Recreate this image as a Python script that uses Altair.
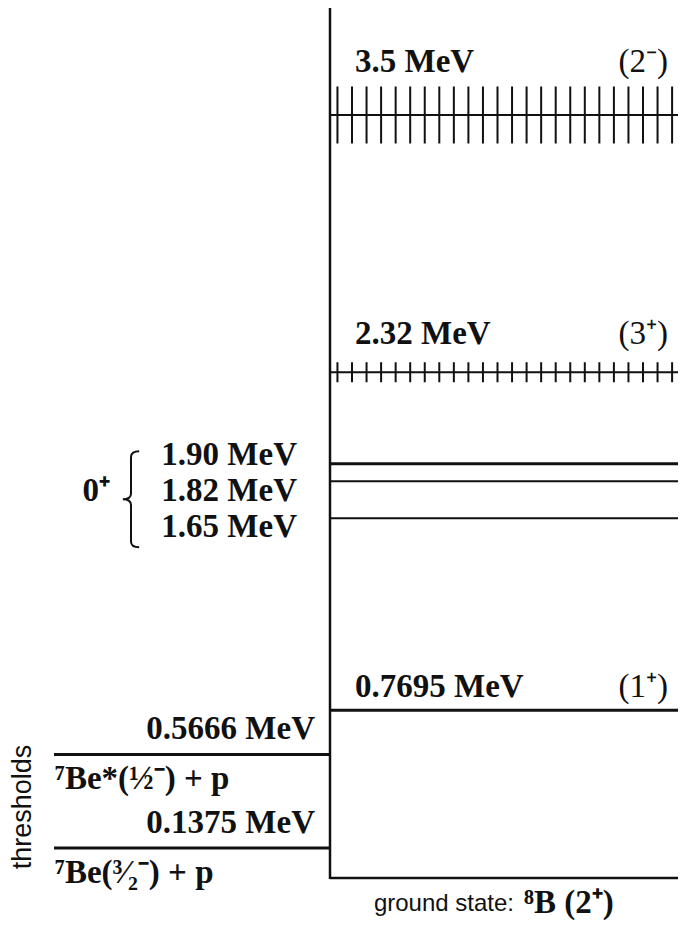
import altair as alt
import pandas as pd

# ---------------- data ----------------
res_energy = [3.5, 2.32]                      # broad resonances (hatched)
res_label = ["3.5 MeV", "2.32 MeV"]
res_spin = ["(2⁻)", "(3⁺)"]

zero_energy = [1.90, 1.82, 1.65]              # 0+ triplet
zero_label = ["1.90 MeV", "1.82 MeV", "1.65 MeV"]
zero_spin = "0⁺"

exc_energy = [0.7695]
exc_label = ["0.7695 MeV"]
exc_spin = ["(1⁺)"]

thr_energy = [0.5666, 0.1375]
thr_label = ["0.5666 MeV", "0.1375 MeV"]
thr_channel = ["⁷Be*(½⁻) + p", "⁷Be(³⁄₂⁻) + p"]
thr_title = "thresholds"

ground_energy = 0.0
ground_prefix = "ground state:"
ground_label = "⁸B (2⁺)"

# ---------------- layout / style ----------------
W, H = 670, 913                 # chart drawn at page offset (8, 8)
PX = 218.0                      # pixels per MeV
Y_TOP = 870 / PX                # top of chart (page y = 8)
Y_BOT = -43 / PX                # bottom of chart (page y = 921)
X_LEFT, X_RIGHT = -322 / 356, 348 / 356   # page x 8 .. 678, axis at 330
THR_X0 = -276 / 356
SERIF = "Liberation Serif"
SANS = "Liberation Sans"
FS = 33
INK = "#111"

xs = alt.Scale(domain=[X_LEFT, X_RIGHT], nice=False, zero=False)
ys = alt.Scale(domain=[Y_BOT, Y_TOP], nice=False, zero=False)


def X(f):
    return alt.X(f, type="quantitative", scale=xs, axis=None)


def Y(f):
    return alt.Y(f, type="quantitative", scale=ys, axis=None)


# level lines
rows = []
for e in res_energy:
    rows.append(dict(E=e, x0=0.0, x1=1.0, sw=2.0))
for e, sw in zip(zero_energy, [3.0, 2.0, 2.0]):
    rows.append(dict(E=e, x0=0.0, x1=1.0, sw=sw))
for e in exc_energy:
    rows.append(dict(E=e, x0=0.0, x1=1.0, sw=3.0))
for e in thr_energy:
    rows.append(dict(E=e, x0=THR_X0, x1=0.0, sw=3.0))
rows.append(dict(E=ground_energy, x0=0.0, x1=1.0, sw=2.5))
lines_df = pd.DataFrame(rows)

lines = alt.Chart(lines_df).mark_rule(color=INK, strokeCap="butt").encode(
    x=X("x0"), x2="x1", y=Y("E"),
    strokeWidth=alt.StrokeWidth("sw:Q", scale=None),
)

# hatch ticks on broad resonances (dashed thick rule => vertical ticks)
tick_h = [57, 20]
ticks_df = pd.DataFrame(dict(E=res_energy, h=tick_h, x0=0.0, x1=1.0))
ticks = alt.Chart(ticks_df).mark_rule(
    color=INK, strokeCap="butt", strokeDash=[2, 12.55], strokeDashOffset=8.1
).encode(
    x=X("x0"), x2="x1", y=Y("E"),
    strokeWidth=alt.StrokeWidth("h:Q", scale=None),
)

# vertical axis line
axis_df = pd.DataFrame(dict(x=[0.0], E0=[ground_energy - 1 / PX], E1=[Y_TOP]))
axis_line = alt.Chart(axis_df).mark_rule(color=INK, strokeWidth=2.5).encode(
    x=X("x"), y=Y("E0"), y2="E1"
)

layers = [ticks, lines, axis_line]

# right-hand labels: energy on left, spin on right
right_rows = list(zip(res_energy, res_label, res_spin, [-43, -28])) + \
    list(zip(exc_energy, exc_label, exc_spin, [-13]))
for e, lab, spin, dy in right_rows:
    d = pd.DataFrame(dict(E=[e], lab=[lab], spin=[spin], x0=[0.0], x1=[1.0]))
    layers.append(alt.Chart(d).mark_text(
        font=SERIF, fontWeight="bold", fontSize=FS, align="left",
        baseline="alphabetic", dx=25, dy=dy, color=INK
    ).encode(x=X("x0"), y=Y("E"), text="lab:N"))
    layers.append(alt.Chart(d).mark_text(
        font=SERIF, fontSize=FS, align="right",
        baseline="alphabetic", dx=-18, dy=dy, color=INK
    ).encode(x=X("x1"), y=Y("E"), text="spin:N"))

# 0+ triplet labels (stacked block), spin and brace
trip_df = pd.DataFrame(dict(E=[zero_energy[0]], x=[0.0], lab=["\n".join(zero_label)]))
layers.append(alt.Chart(trip_df).mark_text(
    font=SERIF, fontWeight="bold", fontSize=FS, align="right",
    baseline="alphabetic", dx=-33, dy=1, lineBreak="\n", lineHeight=36, color=INK
).encode(x=X("x"), y=Y("E"), text="lab:N"))

spin_df = pd.DataFrame(dict(E=[zero_energy[1]], x=[0.0], lab=[zero_spin]))
layers.append(alt.Chart(spin_df).mark_text(
    font=SERIF, fontWeight="bold", fontSize=FS, align="right",
    baseline="alphabetic", dx=-220, dy=20, color=INK
).encode(x=X("x"), y=Y("E"), text="lab:N"))

brace_path = ("M0.17,-1 C0.05,-1 0,-0.96 0,-0.88 L0,-0.12 C0,-0.04 -0.07,0 -0.17,0 "
              "C-0.07,0 0,0.04 0,0.12 L0,0.88 C0,0.96 0.05,1 0.17,1")
brace_df = pd.DataFrame(dict(E=[zero_energy[1] - 18 / PX], x=[-199 / 356]))
layers.append(alt.Chart(brace_df).mark_point(
    shape=brace_path, filled=False, size=96 * 96, strokeWidth=2,
    color=INK, opacity=1
).encode(x=X("x"), y=Y("E")))

# thresholds
thr_df = pd.DataFrame(dict(E=thr_energy, lab=thr_label, ch=thr_channel,
                           x0=THR_X0, x1=0.0))
layers.append(alt.Chart(thr_df).mark_text(
    font=SERIF, fontWeight="bold", fontSize=FS, align="right",
    baseline="alphabetic", dx=-15, dy=-15, color=INK
).encode(x=X("x1"), y=Y("E"), text="lab:N"))
layers.append(alt.Chart(thr_df).mark_text(
    font=SERIF, fontWeight="bold", fontSize=FS, align="left",
    baseline="alphabetic", dx=1, dy=35, color=INK
).encode(x=X("x0"), y=Y("E"), text="ch:N"))

title_df = pd.DataFrame(dict(E=[71 / PX], x=[-307 / 356], lab=[thr_title]))
layers.append(alt.Chart(title_df).mark_text(
    font=SANS, fontSize=27, angle=270, align="center", baseline="middle",
    color=INK
).encode(x=X("x"), y=Y("E"), text="lab:N"))

# ground state caption
g_df = pd.DataFrame(dict(E=[ground_energy], x=[0.5], a=[ground_prefix], b=[ground_label]))
layers.append(alt.Chart(g_df).mark_text(
    font=SANS, fontSize=24, align="right", baseline="middle", dx=6, dy=26,
    color=INK
).encode(x=X("x"), y=Y("E"), text="a:N"))
layers.append(alt.Chart(g_df).mark_text(
    font=SERIF, fontWeight="bold", fontSize=FS, align="left", baseline="middle",
    dx=16, dy=25, color=INK
).encode(x=X("x"), y=Y("E"), text="b:N"))

chart = alt.layer(*layers).properties(
    width=W, height=H, padding=0, autosize=alt.AutoSizeParams(type="none"),
    background="white"
).configure_view(stroke=None)

chart.save("out.html", embed_options={"renderer": "svg", "actions": False})
